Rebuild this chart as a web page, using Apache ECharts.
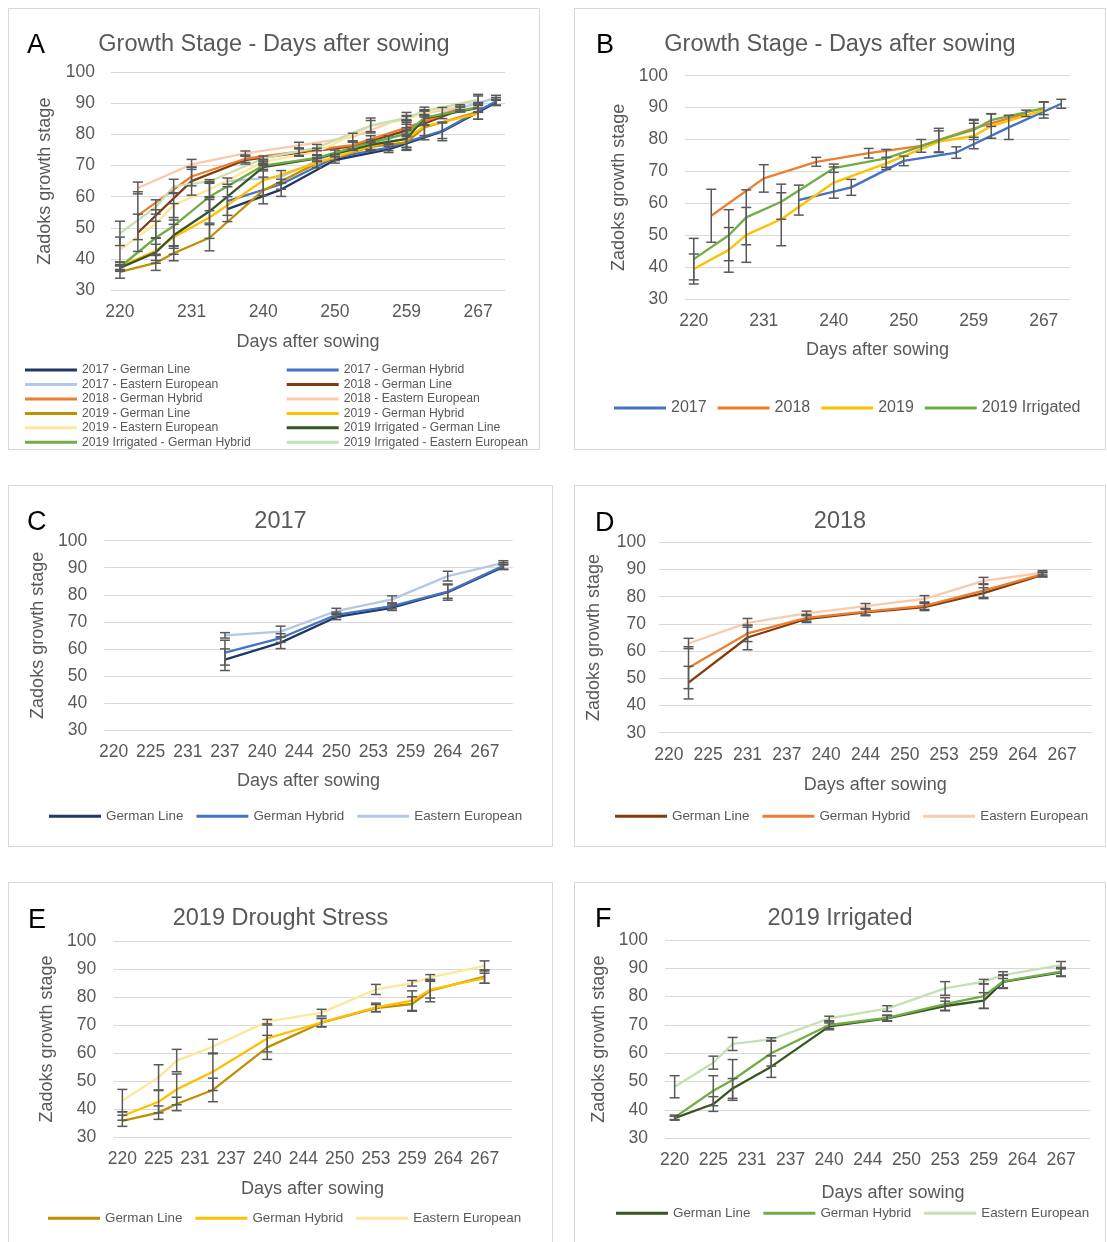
<!DOCTYPE html>
<html>
<head>
<meta charset="utf-8">
<title>Zadoks growth stage - days after sowing</title>
<script src="https://cdn.jsdelivr.net/npm/echarts@6/dist/echarts.min.js"></script>
<style>
  html, body { margin: 0; padding: 0; background: #ffffff; }
  body { width: 1107px; height: 1242px; position: relative; overflow: hidden; }
  .frame { position: absolute; box-sizing: border-box; border: 1.5px solid #d9d9d9; }
  .chart { position: absolute; }
</style>
</head>
<body>
<div class="frame" style="left:8px;top:8px;width:532px;height:442px"></div>
<div class="frame" style="left:574px;top:8px;width:532px;height:442px"></div>
<div class="frame" style="left:8px;top:485px;width:545px;height:362px"></div>
<div class="frame" style="left:574px;top:485px;width:532px;height:362px"></div>
<div class="frame" style="left:8px;top:882px;width:545px;height:380px"></div>
<div class="frame" style="left:574px;top:882px;width:532px;height:380px"></div>

<div id="pA" class="chart" style="left:8px;top:8px;width:532px;height:442px"></div>
<div id="pB" class="chart" style="left:574px;top:8px;width:532px;height:442px"></div>
<div id="pC" class="chart" style="left:8px;top:485px;width:545px;height:362px"></div>
<div id="pD" class="chart" style="left:574px;top:485px;width:532px;height:362px"></div>
<div id="pE" class="chart" style="left:8px;top:882px;width:545px;height:380px"></div>
<div id="pF" class="chart" style="left:574px;top:882px;width:532px;height:380px"></div>

<script>
// ---- Printed day labels on the x axis (every second sampling position) ----
const tickLabels = ['220', '225', '231', '237', '240', '244', '250', '253', '259', '264', '267'];

// Sampling positions (index on the half-step day axis) for each season
const sampleIdx2017 = [6, 9, 12, 15, 18, 21];
const sampleIdx2018 = [1, 4, 7, 10, 13, 16, 19];
const sampleIdx2019 = [0, 2, 3, 5, 8, 11, 14, 16, 17, 20];

// ---- 2017 ----
const gl2017 = [56.0, 62.3, 71.8, 75.2, 81.0, 90.3];
const gl2017Sd = [4.0, 2.2, 1.0, 1.0, 3.0, 1.0];
const gh2017 = [58.6, 64.0, 72.6, 75.8, 81.2, 90.7];
const gh2017Sd = [4.6, 1.6, 1.0, 1.0, 2.5, 1.2];
const ee2017 = [65.0, 66.4, 74.0, 78.3, 86.9, 91.8];
const ee2017Sd = [1.0, 2.0, 1.0, 1.3, 1.8, 0.8];

// ---- 2018 ----
const gl2018 = [48.4, 65.0, 71.8, 74.2, 76.2, 81.3, 88.0];
const gl2018Sd = [6.0, 4.5, 1.3, 1.2, 1.3, 2.0, 0.8];
const gh2018 = [53.9, 66.5, 72.2, 74.5, 76.6, 82.2, 88.3];
const gh2018Sd = [7.7, 3.0, 1.2, 1.2, 1.3, 2.5, 0.8];
const ee2018 = [62.8, 70.4, 73.9, 76.5, 79.2, 85.8, 88.8];
const ee2018Sd = [1.9, 1.6, 0.8, 1.0, 1.2, 1.3, 0.8];

// ---- 2019 drought stress ----
const gl2019 = [35.8, 38.7, 41.8, 46.8, 62.0, 70.8, 76.0, 77.5, 82.3, 87.3];
const gl2019Sd = [2.0, 2.4, 2.4, 4.2, 4.3, 1.5, 1.3, 2.6, 4.0, 2.4];
const gh2019 = [37.5, 42.6, 47.0, 53.3, 65.2, 70.9, 76.3, 78.7, 82.6, 86.7];
const gh2019Sd = [1.5, 4.0, 5.5, 6.7, 4.8, 1.5, 1.5, 3.5, 3.0, 1.8];
const ee2019 = [43.0, 51.3, 57.3, 62.3, 71.2, 74.4, 82.7, 84.9, 87.0, 91.1];
const ee2019Sd = [4.0, 4.5, 4.0, 2.6, 0.8, 1.2, 1.8, 1.0, 1.0, 1.8];

// ---- 2019 irrigated ----
const glIrr = [37.1, 42.1, 47.6, 55.3, 69.5, 72.3, 76.7, 78.6, 85.2, 88.6];
const glIrrSd = [0.7, 2.6, 3.5, 3.8, 1.2, 1.0, 1.7, 2.8, 2.3, 1.5];
const ghIrr = [37.4, 46.8, 50.6, 60.0, 70.0, 72.5, 77.4, 80.2, 85.4, 88.8];
const ghIrrSd = [0.8, 5.3, 7.2, 4.5, 1.2, 1.0, 2.2, 4.3, 2.3, 1.5];
const eeIrr = [48.2, 56.7, 63.3, 64.9, 72.3, 75.8, 82.9, 85.3, 87.6, 91.1];
const eeIrrSd = [3.9, 2.3, 2.3, 0.6, 0.8, 1.0, 2.4, 0.8, 1.2, 1.3];

// ---- Season means (all cultivars) ----
const mean2017 = [61.0, 65.0, 73.3, 75.9, 83.8, 91.2];
const mean2017Sd = [4.7, 2.5, 1.5, 1.8, 3.8, 1.4];
const mean2018 = [56.1, 67.8, 73.0, 75.7, 78.0, 83.5, 88.2];
const mean2018Sd = [8.3, 4.3, 1.4, 1.5, 2.0, 2.8, 1.0];
const mean2019 = [39.4, 45.4, 50.1, 55.0, 66.5, 72.5, 79.3, 81.1, 84.2, 89.2];
const mean2019Sd = [4.7, 7.0, 8.6, 8.3, 4.9, 1.9, 3.4, 4.0, 3.8, 2.5];
const meanIrr = [42.5, 50.0, 55.6, 60.5, 71.0, 74.1, 79.8, 83.0, 86.1, 89.8];
const meanIrrSd = [6.5, 8.0, 8.6, 5.5, 1.3, 2.8, 3.7, 3.0, 2.0, 2.0];

const FONT = '"Liberation Sans", Arial, Helvetica, sans-serif';
const GREY = '#595959';

// Half-step day axis: printed labels on even positions, blanks between
const dayAxis = [];
tickLabels.forEach(function (t) { dayAxis.push(t); dayAxis.push(''); });

function errorBarItem(params, api) {
  const x = api.value(0);
  const lo = api.coord([x, api.value(1)]);
  const hi = api.coord([x, api.value(2)]);
  const half = 5;
  const mk = function (x1, y1, x2, y2) {
    return { type: 'line', shape: { x1: x1, y1: y1, x2: x2, y2: y2 },
             style: { stroke: GREY, lineWidth: 1.5 } };
  };
  return { type: 'group', children: [
    mk(lo[0], lo[1], hi[0], hi[1]),
    mk(lo[0] - half, lo[1], lo[0] + half, lo[1]),
    mk(hi[0] - half, hi[1], hi[0] + half, hi[1])
  ] };
}

function lineSeries(s) {
  return {
    name: s.name, type: 'line', symbol: 'none', z: 2,
    data: s.idx.map(function (k, i) { return [k, s.v[i]]; }),
    lineStyle: { color: s.color, width: 2.3 },
    itemStyle: { color: s.color }
  };
}

function errorSeries(s) {
  return {
    type: 'custom', z: 3, silent: true,
    renderItem: errorBarItem,
    encode: { x: 0, y: [1, 2] },
    data: s.idx.map(function (k, i) { return [k, s.v[i] - s.sd[i], s.v[i] + s.sd[i]]; })
  };
}

function buildPanel(id, p) {
  const el = document.getElementById(id);
  const chart = echarts.init(el, null, { renderer: 'canvas' });
  const series = p.lines.map(lineSeries).concat(p.lines.map(errorSeries));
  chart.setOption({
    animation: false,
    textStyle: { fontFamily: FONT },
    title: [
      { text: p.letter, left: p.letterPos[0], top: p.letterPos[1], padding: 0,
        textStyle: { fontFamily: FONT, fontSize: 27, lineHeight: 27, fontWeight: 'normal', color: '#000000' } },
      { text: p.heading, left: 'center', top: 25, padding: 0,
        textStyle: { fontFamily: FONT, fontSize: 23.5, lineHeight: 24, fontWeight: 'normal', color: GREY } }
    ],
    legend: p.legends.map(function (lg) {
      return {
        data: lg.names, orient: lg.orient || 'horizontal', left: lg.left, top: lg.top,
        padding: 0, itemGap: lg.gap, itemWidth: 52, itemHeight: lg.iconH || 3,
        icon: 'rect', selectedMode: false,
        textStyle: { fontFamily: FONT, fontSize: lg.fontSize, color: GREY, lineHeight: lg.lineHeight || lg.fontSize }
      };
    }),
    grid: { left: p.grid[0], top: p.grid[1], width: p.grid[2], height: p.grid[3],
            containLabel: false, outerBoundsMode: 'none' },
    xAxis: {
      type: 'category', data: dayAxis, boundaryGap: true,
      axisLine: { show: false }, axisTick: { show: false }, splitLine: { show: false },
      axisLabel: { interval: p.labelEvery, margin: 13, fontSize: 17.5, color: GREY, fontFamily: FONT },
      name: 'Days after sowing', nameLocation: 'middle', nameGap: p.xNameGap,
      nameTextStyle: { fontSize: 18, color: GREY, fontFamily: FONT, padding: p.xNamePad || 0 }
    },
    yAxis: {
      type: 'value', min: 30, max: 100, interval: 10,
      axisLine: { show: false }, axisTick: { show: false },
      splitLine: { lineStyle: { color: '#d9d9d9', width: 1.2 } },
      axisLabel: { margin: p.yLabelMargin, fontSize: 17.5, color: GREY, fontFamily: FONT },
      name: 'Zadoks growth stage', nameLocation: 'middle', nameGap: p.yNameGap,
      nameTextStyle: { fontSize: 18, color: GREY, fontFamily: FONT }
    },
    series: series
  });
}

const C = {
  gl17: '#203864', gh17: '#4472C4', ee17: '#B4C7E7',
  gl18: '#843C0C', gh18: '#ED7D31', ee18: '#F8CBAD',
  gl19: '#BF9000', gh19: '#FFC000', ee19: '#FFE699',
  glIr: '#375623', ghIr: '#70AD47', eeIr: '#C5E0B4'
};

const cultivarLegend = function (left, top) {
  return [{ names: ['German Line', 'German Hybrid', 'Eastern European'], left: left, top: top, gap: 13, fontSize: 13.4 }];
};

// A: all cultivars of all seasons
const allLines = [
  { name: '2017 - German Line', color: C.gl17, idx: sampleIdx2017, v: gl2017, sd: gl2017Sd },
  { name: '2017 - German Hybrid', color: C.gh17, idx: sampleIdx2017, v: gh2017, sd: gh2017Sd },
  { name: '2017 - Eastern European', color: C.ee17, idx: sampleIdx2017, v: ee2017, sd: ee2017Sd },
  { name: '2018 - German Line', color: C.gl18, idx: sampleIdx2018, v: gl2018, sd: gl2018Sd },
  { name: '2018 - German Hybrid', color: C.gh18, idx: sampleIdx2018, v: gh2018, sd: gh2018Sd },
  { name: '2018 - Eastern European', color: C.ee18, idx: sampleIdx2018, v: ee2018, sd: ee2018Sd },
  { name: '2019 - German Line', color: C.gl19, idx: sampleIdx2019, v: gl2019, sd: gl2019Sd },
  { name: '2019 - German Hybrid', color: C.gh19, idx: sampleIdx2019, v: gh2019, sd: gh2019Sd },
  { name: '2019 - Eastern European', color: C.ee19, idx: sampleIdx2019, v: ee2019, sd: ee2019Sd },
  { name: '2019 Irrigated - German Line', color: C.glIr, idx: sampleIdx2019, v: glIrr, sd: glIrrSd },
  { name: '2019 Irrigated - German Hybrid', color: C.ghIr, idx: sampleIdx2019, v: ghIrr, sd: ghIrrSd },
  { name: '2019 Irrigated - Eastern European', color: C.eeIr, idx: sampleIdx2019, v: eeIrr, sd: eeIrrSd }
];

buildPanel('pA', {
  letter: 'A', letterPos: [19, 24.5], heading: 'Growth Stage - Days after sowing',
  grid: [103, 64.3, 394, 217.7], labelEvery: 3, xNameGap: 43, yNameGap: 56.5, yLabelMargin: 16,
  lines: allLines,
  legends: [
    { names: allLines.filter(function (l, i) { return i % 2 === 0; }).map(function (l) { return l.name; }),
      orient: 'vertical', left: 17, top: 354.8, gap: 0, fontSize: 12.2, lineHeight: 14.45 },
    { names: allLines.filter(function (l, i) { return i % 2 === 1; }).map(function (l) { return l.name; }),
      orient: 'vertical', left: 278.7, top: 354.8, gap: 0, fontSize: 12.2, lineHeight: 14.45 }
  ]
});

buildPanel('pB', {
  letter: 'B', letterPos: [22, 24.5], heading: 'Growth Stage - Days after sowing',
  grid: [111, 67.7, 385, 223.3], labelEvery: 3, xNameGap: 42, yNameGap: 55, yLabelMargin: 17,
  lines: [
    { name: '2017', color: C.gh17, idx: sampleIdx2017, v: mean2017, sd: mean2017Sd },
    { name: '2018', color: C.gh18, idx: sampleIdx2018, v: mean2018, sd: mean2018Sd },
    { name: '2019', color: C.gh19, idx: sampleIdx2019, v: mean2019, sd: mean2019Sd },
    { name: '2019 Irrigated', color: C.ghIr, idx: sampleIdx2019, v: meanIrr, sd: meanIrrSd }
  ],
  legends: [{ names: ['2017', '2018', '2019', '2019 Irrigated'], left: 40, top: 392, gap: 11, fontSize: 16 }]
});

buildPanel('pC', {
  letter: 'C', letterPos: [19, 24.5], heading: '2017',
  grid: [96.3, 55.7, 408.4, 189.3], labelEvery: 1, xNameGap: 42, yNameGap: 56, yLabelMargin: 17,
  lines: [
    { name: 'German Line', color: C.gl17, idx: sampleIdx2017, v: gl2017, sd: gl2017Sd },
    { name: 'German Hybrid', color: C.gh17, idx: sampleIdx2017, v: gh2017, sd: gh2017Sd },
    { name: 'Eastern European', color: C.ee17, idx: sampleIdx2017, v: ee2017, sd: ee2017Sd }
  ],
  legends: cultivarLegend(41, 324.5)
});

buildPanel('pD', {
  letter: 'D', letterPos: [21, 25], heading: '2018',
  grid: [85, 57.3, 432.7, 190.4], labelEvery: 1, xNameGap: 43, yNameGap: 56, yLabelMargin: 13,
  lines: [
    { name: 'German Line', color: C.gl18, idx: sampleIdx2018, v: gl2018, sd: gl2018Sd },
    { name: 'German Hybrid', color: C.gh18, idx: sampleIdx2018, v: gh2018, sd: gh2018Sd },
    { name: 'Eastern European', color: C.ee18, idx: sampleIdx2018, v: ee2018, sd: ee2018Sd }
  ],
  legends: cultivarLegend(41, 324.5)
});

buildPanel('pE', {
  letter: 'E', letterPos: [20, 25], heading: '2019 Drought Stress',
  grid: [105.3, 59, 398.4, 196], labelEvery: 1, xNameGap: 43, yNameGap: 55, yLabelMargin: 17,
  lines: [
    { name: 'German Line', color: C.gl19, idx: sampleIdx2019, v: gl2019, sd: gl2019Sd },
    { name: 'German Hybrid', color: C.gh19, idx: sampleIdx2019, v: gh2019, sd: gh2019Sd },
    { name: 'Eastern European', color: C.ee19, idx: sampleIdx2019, v: ee2019, sd: ee2019Sd }
  ],
  legends: cultivarLegend(40, 329.5)
});

buildPanel('pF', {
  letter: 'F', letterPos: [21, 24.5], heading: '2019 Irrigated',
  grid: [91, 58, 425, 198.3], labelEvery: 1, xNameGap: 46, xNamePad: [0, 0, 0, 31], yNameGap: 55.5, yLabelMargin: 17,
  lines: [
    { name: 'German Line', color: C.glIr, idx: sampleIdx2019, v: glIrr, sd: glIrrSd },
    { name: 'German Hybrid', color: C.ghIr, idx: sampleIdx2019, v: ghIrr, sd: ghIrrSd },
    { name: 'Eastern European', color: C.eeIr, idx: sampleIdx2019, v: eeIrr, sd: eeIrrSd }
  ],
  legends: cultivarLegend(42, 324.5)
});
</script>
</body>
</html>
